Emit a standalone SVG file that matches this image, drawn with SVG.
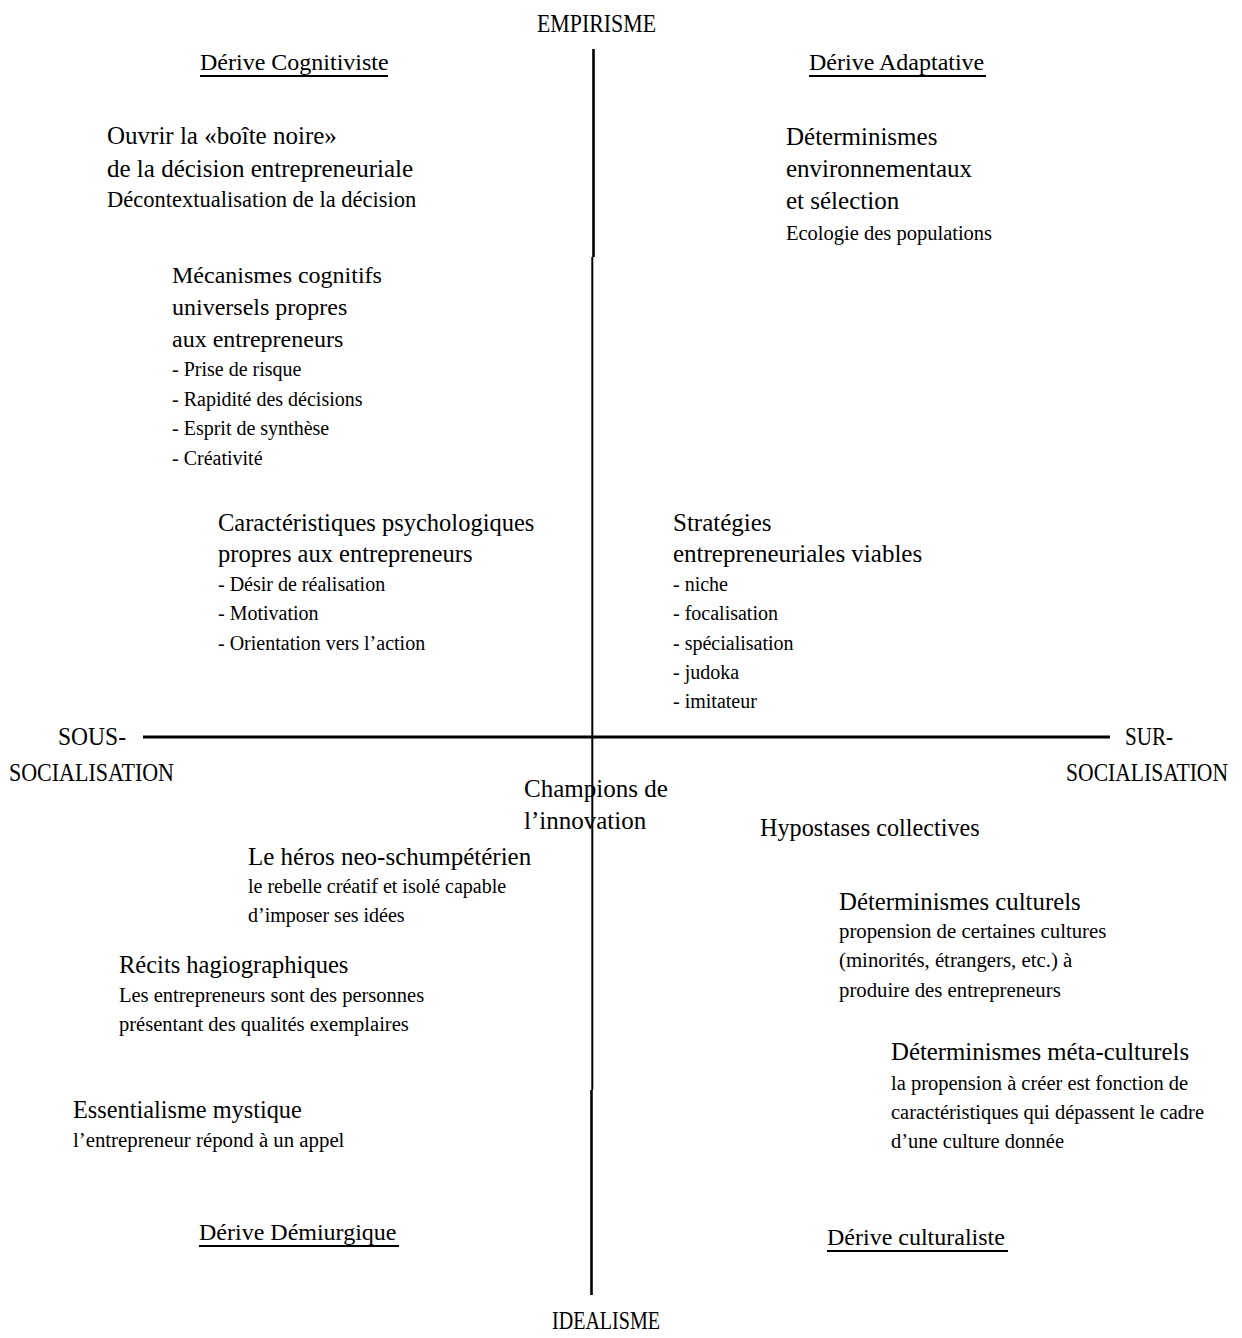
<svg xmlns="http://www.w3.org/2000/svg" width="1242" height="1338" viewBox="0 0 1242 1338">
<style>
text{font-family:"Liberation Serif","Times New Roman",serif;fill:#000}
.cap{font-size:25px}
.ttl{font-size:24px}
.h{font-size:25px}
.s{font-size:20.5px}
.l{font-size:20px}
.ax{stroke:#000;fill:none}
.ul{stroke:#000;stroke-width:2}
</style>
<rect width="1242" height="1338" fill="#fff"/>
<g id="axes">
<line class="ax" x1="143" y1="737" x2="1110" y2="737" stroke-width="3"/>
<line class="ax" x1="593.5" y1="49" x2="593.5" y2="257" stroke-width="2.6"/>
<line class="ax" x1="592.3" y1="257" x2="592.3" y2="1090" stroke-width="2"/>
<line class="ax" x1="591.5" y1="1090" x2="591.5" y2="1295" stroke-width="2.6"/>
</g>
<g id="axis-labels">
<text class="cap" x="537" y="32" textLength="119" lengthAdjust="spacingAndGlyphs">EMPIRISME</text>
<text class="cap" x="552" y="1329" textLength="108" lengthAdjust="spacingAndGlyphs">IDEALISME</text>
<text class="cap" x="58" y="745" textLength="68" lengthAdjust="spacingAndGlyphs">SOUS-</text>
<text class="cap" x="9" y="781" textLength="165" lengthAdjust="spacingAndGlyphs">SOCIALISATION</text>
<text class="cap" x="1125" y="745" textLength="48" lengthAdjust="spacingAndGlyphs">SUR-</text>
<text class="cap" transform="translate(1066 781) scale(0.865 1)" x="0" y="0">SOCIALISATION</text>
</g>
<g id="title-cognitiviste">
<text class="ttl" x="200" y="70">Dérive Cognitiviste</text>
<line class="ul" x1="200" y1="76" x2="388" y2="76"/>
</g>
<g id="title-adaptative">
<text class="ttl" x="809" y="70">Dérive Adaptative</text>
<line class="ul" x1="809" y1="76" x2="986" y2="76"/>
</g>
<g id="title-demiurgique">
<text class="ttl" x="199" y="1240">Dérive Démiurgique</text>
<line class="ul" x1="199" y1="1246" x2="399" y2="1246"/>
</g>
<g id="title-culturaliste">
<text class="ttl" x="827" y="1245">Dérive culturaliste</text>
<line class="ul" x1="827" y1="1251" x2="1008" y2="1251"/>
</g>
<g id="boite-noire">
<text class="h" x="107" y="144">Ouvrir la «boîte noire»</text>
<text class="h" x="107" y="177">de la décision entrepreneuriale</text>
<text x="107" y="207" style="font-size:22.5px">Décontextualisation de la décision</text>
</g>
<g id="determinismes-env">
<text class="h" x="786" y="145">Déterminismes</text>
<text class="h" x="786" y="177">environnementaux</text>
<text class="h" x="786" y="209">et sélection</text>
<text class="s" x="786" y="240">Ecologie des populations</text>
</g>
<g id="mecanismes">
<text x="172" y="283" style="font-size:24px">Mécanismes cognitifs</text>
<text x="172" y="315" style="font-size:24px">universels propres</text>
<text x="172" y="347" style="font-size:24px">aux entrepreneurs</text>
<text class="l" x="172" y="376">- Prise de risque</text>
<text class="l" x="172" y="406">- Rapidité des décisions</text>
<text class="l" x="172" y="435">- Esprit de synthèse</text>
<text class="l" x="172" y="465">- Créativité</text>
</g>
<g id="caracteristiques">
<text x="218" y="531" style="font-size:24.5px">Caractéristiques psychologiques</text>
<text x="218" y="562" style="font-size:24.5px">propres aux entrepreneurs</text>
<text class="l" x="218" y="591">- Désir de réalisation</text>
<text class="l" x="218" y="620">- Motivation</text>
<text class="l" x="218" y="650">- Orientation vers l’action</text>
</g>
<g id="strategies">
<text class="h" x="673" y="531">Stratégies</text>
<text class="h" x="673" y="562">entrepreneuriales viables</text>
<text class="l" x="673" y="591">- niche</text>
<text class="l" x="673" y="620">- focalisation</text>
<text class="l" x="673" y="650">- spécialisation</text>
<text class="l" x="673" y="679">- judoka</text>
<text class="l" x="673" y="708">- imitateur</text>
</g>
<g id="champions">
<text class="h" x="524" y="797">Champions de</text>
<text class="h" x="524" y="829">l’innovation</text>
</g>
<g id="hypostases">
<text x="760" y="836" style="font-size:24.2px">Hypostases collectives</text>
</g>
<g id="heros">
<text class="h" x="248" y="865">Le héros neo-schumpétérien</text>
<text class="l" x="248" y="893">le rebelle créatif et isolé capable</text>
<text class="l" x="248" y="922">d’imposer ses idées</text>
</g>
<g id="recits">
<text x="119" y="973" style="font-size:24.5px">Récits hagiographiques</text>
<text class="s" x="119" y="1002">Les entrepreneurs sont des personnes</text>
<text class="s" x="119" y="1031">présentant des qualités exemplaires</text>
</g>
<g id="essentialisme">
<text x="73" y="1118" style="font-size:24.3px">Essentialisme mystique</text>
<text x="73" y="1147" style="font-size:20.8px">l’entrepreneur répond à un appel</text>
</g>
<g id="determinismes-culturels">
<text x="839" y="910" style="font-size:24.8px">Déterminismes culturels</text>
<text x="839" y="938" style="font-size:20.8px">propension de certaines cultures</text>
<text x="839" y="967" style="font-size:20.8px">(minorités, étrangers, etc.) à</text>
<text x="839" y="997" style="font-size:20.8px">produire des entrepreneurs</text>
</g>
<g id="determinismes-meta">
<text x="891" y="1060" style="font-size:24.8px">Déterminismes méta-culturels</text>
<text class="s" x="891" y="1090">la propension à créer est fonction de</text>
<text class="s" x="891" y="1119">caractéristiques qui dépassent le cadre</text>
<text class="s" x="891" y="1148">d’une culture donnée</text>
</g>
</svg>
